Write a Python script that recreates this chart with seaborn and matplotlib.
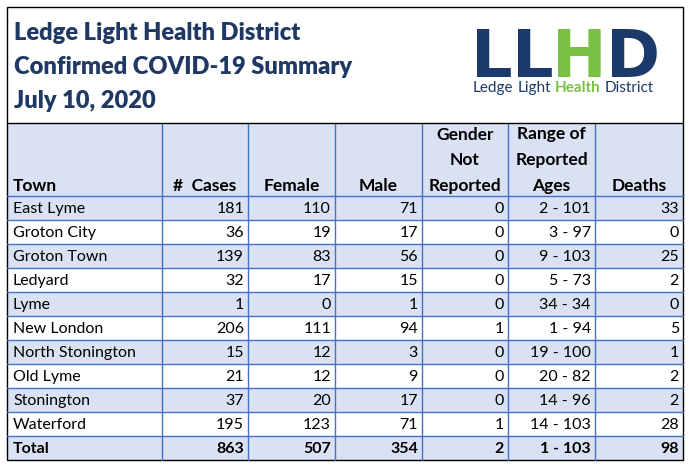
import matplotlib
matplotlib.use("Agg")
import matplotlib.pyplot as plt
import seaborn as sns
from matplotlib.patches import Rectangle

sns.set_theme(style="white")
plt.rcParams['font.family'] = ['Lato', 'DejaVu Sans']

title_lines = ["Ledge Light Health District", "Confirmed COVID-19 Summary", "July 10, 2020"]
headers = ["Town", "#  Cases", "Female", "Male", "Gender\nNot\nReported", "Range of\nReported\nAges", "Deaths"]
towns = ["East Lyme", "Groton City", "Groton Town", "Ledyard", "Lyme", "New London",
         "North Stonington", "Old Lyme", "Stonington", "Waterford"]
cases = [181, 36, 139, 32, 1, 206, 15, 21, 37, 195]
female = [110, 19, 83, 17, 0, 111, 12, 12, 20, 123]
male = [71, 17, 56, 15, 1, 94, 3, 9, 17, 71]
gender_nr = [0, 0, 0, 0, 0, 1, 0, 0, 0, 1]
age_ranges = ["2 - 101", "3 - 97", "9 - 103", "5 - 73", "34 - 34", "1 - 94",
              "19 - 100", "20 - 82", "14 - 96", "14 - 103"]
deaths = [33, 0, 25, 2, 0, 5, 1, 2, 2, 28]
total_row = ["Total", "863", "507", "354", "2", "1 - 103", "98"]

W, H = 691, 471
fig = plt.figure(figsize=(W / 100, H / 100), dpi=100)
ax = fig.add_axes([0, 0, 1, 1])
ax.set_xlim(0, W)
ax.set_ylim(H, 0)
ax.axis("off")

navy = "#1F3864"
blue_fill = "#D9E1F2"
line_blue = "#4472C4"

col_x = [7, 162, 248, 335, 422, 508, 595, 683]
top, head_top, head_bot, bottom = 7, 123, 196, 460
n_rows = len(towns) + 1
row_h = (bottom - head_bot) / n_rows

ax.add_patch(Rectangle((col_x[0], head_top), col_x[-1] - col_x[0], head_bot - head_top,
                       facecolor=blue_fill, edgecolor="none"))
for i in range(n_rows):
    if i % 2 == 0:
        y0 = head_bot + i * row_h
        ax.add_patch(Rectangle((col_x[0], y0), col_x[-1] - col_x[0], row_h,
                               facecolor=blue_fill, edgecolor="none"))

for x in col_x[1:-1]:
    ax.plot([x, x], [head_top, bottom], color=line_blue, lw=1)
for i in range(n_rows):
    y = head_bot + i * row_h
    ax.plot([col_x[0], col_x[-1]], [y, y], color=line_blue, lw=1)
ax.plot([col_x[0], col_x[-1]], [head_top, head_top], color="black", lw=1)
ax.add_patch(Rectangle((col_x[0], top), col_x[-1] - col_x[0], bottom - top,
                       facecolor="none", edgecolor="black", lw=1))

# title
for k, t in enumerate(title_lines):
    ax.text(14, 33 + k * 34, t, fontsize=17, fontweight="heavy", color=navy,
            ha="left", va="center")

fig.canvas.draw()
renderer = fig.canvas.get_renderer()
inv = ax.transData.inverted()


def right_edge(t):
    bb = t.get_window_extent(renderer=renderer)
    return inv.transform((bb.x1, bb.y0))[0]


# logo
logo_navy = "#1B3A6B"
logo_green = "#7AC143"
x = 471
for ch, c in zip("LLHD", [logo_navy, logo_navy, logo_green, logo_navy]):
    t = ax.text(x, 77, ch, fontsize=47, fontweight="black", color=c, ha="left",
                va="baseline", family=["DejaVu Sans"])
    x = right_edge(t) - 1

sub_y = 92
x = 473
parts = [("Ledge", "normal", logo_navy), ("Light", "normal", logo_navy),
         ("Health", "bold", logo_green), ("District", "normal", logo_navy)]
for s, wgt, c in parts:
    t = ax.text(x, sub_y, s, fontsize=11, fontweight=wgt, color=c, ha="left", va="baseline")
    x = right_edge(t) + 4

# headers
for j, h in enumerate(headers):
    if j == 0:
        ax.text(col_x[0] + 6, 191, h, fontsize=12.5, fontweight="bold", ha="left",
                va="baseline", color="black")
    else:
        cx = (col_x[j] + col_x[j + 1]) / 2
        ax.text(cx, 191, h, fontsize=12.5, fontweight="bold", ha="center",
                va="baseline", color="black", linespacing=1.75, multialignment="center")

rows = []
for i in range(len(towns)):
    rows.append([towns[i], str(cases[i]), str(female[i]), str(male[i]),
                 str(gender_nr[i]), age_ranges[i], str(deaths[i])])
rows.append(total_row)
for i, r in enumerate(rows):
    yc = head_bot + (i + 0.5) * row_h
    bold = i == len(rows) - 1
    for j, v in enumerate(r):
        if j == 0:
            ax.text(col_x[0] + 6, yc + 1, v, fontsize=11.5, ha="left", va="center",
                    fontweight="bold" if bold else "normal", color="black")
        else:
            ax.text(col_x[j + 1] - 4, yc + 1, v, fontsize=11.5, ha="right", va="center",
                    fontweight="bold" if bold else "normal", color="black")

fig.savefig("out.png", dpi=100)
